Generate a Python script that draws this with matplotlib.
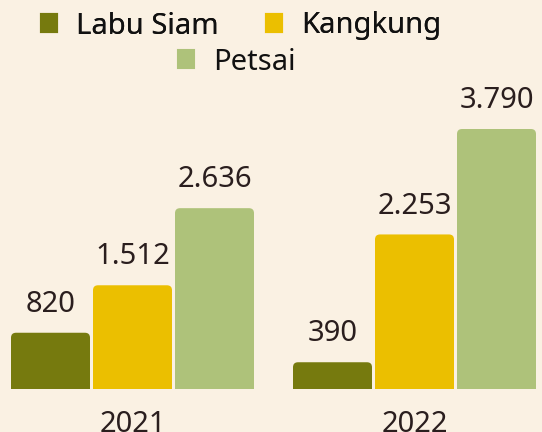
import matplotlib.pyplot as plt
from matplotlib.patches import FancyBboxPatch, Rectangle, Patch
import numpy as np

# data
years = ["2021", "2022"]
series = ["Labu Siam", "Kangkung", "Petsai"]
labu_siam = [820, 390]
kangkung = [1512, 2253]
petsai = [2636, 3790]
labels_2021 = ["820", "1.512", "2.636"]
labels_2022 = ["390", "2.253", "3.790"]

colors = ["#767A0E", "#EBBF00", "#AEC27A"]
bg = "#FAF1E3"
txt = "#2A1E1E"

plt.rcParams['font.family'] = ['Noto Sans', 'DejaVu Sans']

fig = plt.figure(figsize=(5.42, 4.32), dpi=100, facecolor=bg)
ax = fig.add_axes([0, 43 / 432, 1, 389 / 432])
ax.set_facecolor(bg)

x = np.arange(len(years))
w = 79 / 282
step = 82 / 282
values = [labu_siam, kangkung, petsai]
value_labels = list(zip(labels_2021, labels_2022))

ax.set_xlim(-132.5 / 282, (542 - 132.5) / 282)
ax.set_ylim(0, 389 / 0.0686)

# rounding radius in data units (about 5 px)
rx = 5 / 282
ry = 5 / 0.0686

for i, (vals, c) in enumerate(zip(values, colors)):
    bars = ax.bar(x + (i - 1) * step, vals, width=w, color=c, label=series[i])
    for b, lab in zip(bars, value_labels[i]):
        bx, by, bw, bh = b.get_x(), b.get_y(), b.get_width(), b.get_height()
        b.set_visible(False)
        ax.add_patch(FancyBboxPatch((bx, by), bw, bh,
                                    boxstyle=f"round,pad=0,rounding_size={rx}",
                                    mutation_aspect=ry / rx, fc=c, ec="none"))
        ax.add_patch(Rectangle((bx, by), bw, bh - ry, fc=c, ec="none"))
        ax.annotate(lab, (bx + bw / 2, bh), xytext=(0, 10), textcoords="offset points",
                    ha="center", va="bottom", fontsize=21, color=txt)

for s in ax.spines.values():
    s.set_visible(False)
ax.set_yticks([])
ax.set_xticks(x)
ax.set_xticklabels(years, fontsize=21, color=txt)
ax.tick_params(axis="x", length=0, pad=15)

handles = [Patch(fc=c, ec=c, lw=1.5, joinstyle="round") for c in colors]
leg_kw = dict(frameon=False, fontsize=21, handlelength=0.55, handleheight=0.55,
              handletextpad=0.65, labelcolor="#111111")
leg1 = fig.legend(handles[:2], series[:2], ncol=2, loc="center",
                  bbox_to_anchor=(241 / 542, 1 - 26 / 432), columnspacing=1.65, **leg_kw)
leg2 = fig.legend(handles[2:], series[2:], loc="center",
                  bbox_to_anchor=(237 / 542, 1 - 62 / 432), **leg_kw)
fig.add_artist(leg1)

fig.savefig("out.png", dpi=100, facecolor=bg)
